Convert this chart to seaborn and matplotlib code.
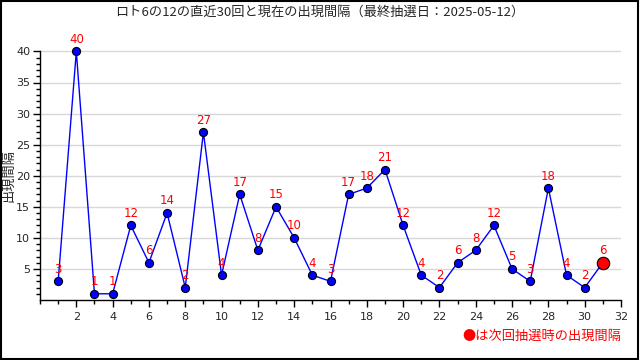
import matplotlib
matplotlib.use("Agg")
import matplotlib.pyplot as plt
import seaborn as sns
import pandas as pd
from matplotlib.ticker import MultipleLocator, FixedLocator
from matplotlib.patches import Rectangle

# Data: interval for last 30 draws plus current interval
draws = list(range(1, 31))
intervals = [3, 40, 1, 1, 12, 6, 14, 2, 27, 4, 17, 8, 15, 10, 4,
             3, 17, 18, 21, 12, 4, 2, 6, 8, 12, 5, 3, 18, 4, 2]
current_draw = 31
current_interval = 6

title = "ロト6の12の直近30回と現在の出現間隔（最終抽選日：2025-05-12）"
ylabel = "出現間隔"
note = "●は次回抽選時の出現間隔"

df = pd.DataFrame({"draw": draws, "interval": intervals})
df_all = pd.DataFrame({"draw": draws + [current_draw],
                       "interval": intervals + [current_interval]})

sns.set_style("white")
plt.rcParams['font.family'] = ['Noto Sans CJK JP', 'DejaVu Sans']

fig = plt.figure(figsize=(6.4, 3.6), dpi=100)
ax = fig.add_axes([40 / 640, 60 / 360, 581 / 640, 261 / 360])

# line including current point
sns.lineplot(data=df_all, x="draw", y="interval", color="#0000ff",
             linewidth=1, ax=ax)
sns.scatterplot(data=df, x="draw", y="interval", color="#0000ff",
                edgecolor="black", linewidth=0.8, s=34, ax=ax, zorder=3)
ax.scatter([current_draw], [current_interval], color="#ff0000",
           edgecolor="black", linewidth=0.8, s=80, zorder=4)

for x, y in zip(df_all["draw"], df_all["interval"]):
    ax.text(x, y + 0.9, str(y), color="#ff0000", fontsize=8.5,
            ha="center", va="bottom", family="DejaVu Sans")

ax.set_xlim(0, 32)
ax.set_ylim(0, 42)
ax.xaxis.set_minor_locator(MultipleLocator(1))
ax.yaxis.set_minor_locator(FixedLocator(range(1, 41)))
ax.set_xticks(range(2, 33, 2))
ax.set_yticks(range(5, 41, 5))
ax.tick_params(axis="both", which="major", direction="out", length=5,
               width=1, color="black", labelsize=8, pad=2)
ax.tick_params(axis="x", which="major", pad=4)
ax.tick_params(axis="both", which="minor", direction="out", length=3,
               width=1, color="black")
ax.tick_params(axis="x", which="both", bottom=True)
ax.tick_params(axis="y", which="both", left=True)
for lbl in ax.get_xticklabels() + ax.get_yticklabels():
    lbl.set_family("DejaVu Sans")

ax.yaxis.grid(True, color="#d8d8d8", linewidth=1)
ax.set_axisbelow(True)
for side in ["top", "right"]:
    ax.spines[side].set_visible(False)
for side in ["left", "bottom"]:
    ax.spines[side].set_color("black")
    ax.spines[side].set_linewidth(1)
ax.spines["left"].set_bounds(0, 40)

ax.set_xlabel("")
ax.set_ylabel("")

fig.text(9 / 640, 1 - 175 / 360, ylabel, rotation=90, ha="center",
         va="center", fontsize=9.5)
fig.text(320 / 640, 1 - 12 / 360, title, ha="center", va="center", fontsize=9.5)
fig.text(621 / 640, 1 - 336 / 360, note, ha="right", va="center",
         fontsize=9.5, color="#ff0000")

# outer frame
fig.patches.append(Rectangle((0.001, 0.003), 0.996, 0.995, transform=fig.transFigure,
                             fill=False, edgecolor="black", linewidth=1.5))

fig.savefig("out.png", dpi=100)
